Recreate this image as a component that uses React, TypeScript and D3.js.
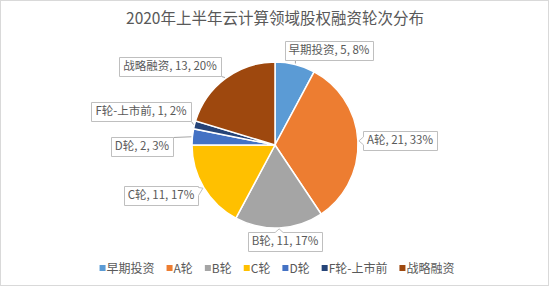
import React from 'react';
import * as d3 from 'd3';

const title = '2020年上半年云计算领域股权融资轮次分布';
const categories = ['早期投资', 'A轮', 'B轮', 'C轮', 'D轮', 'F轮-上市前', '战略融资'];
const values = [5, 21, 11, 11, 2, 1, 13];
const colors = ['#5b9bd5', '#ed7d31', '#a5a5a5', '#ffc000', '#4472c4', '#264478', '#9e480e'];

// label box centres relative to the pie centre, and whether the box is a wedge callout
const labelLayout = [
  { dx: 54, dy: -95, callout: false },
  { dx: 125, dy: -5, callout: true },
  { dx: 10, dy: 96, callout: true },
  { dx: -114, dy: 50, callout: true },
  { dx: -133, dy: 1, callout: false },
  { dx: -134, dy: -34, callout: false },
  { dx: -105, dy: -79, callout: false },
];

const W = 550, H = 288;
const FONT = "'Noto Sans CJK SC', 'Microsoft YaHei', sans-serif";
const cx = 275, cy = 145, R = 83;

let ctx: CanvasRenderingContext2D | null = null;
const textWidth = (s: string, size: number) => {
  if (!ctx) ctx = document.createElement('canvas').getContext('2d');
  ctx!.font = `${size}px ${FONT}`;
  return ctx!.measureText(s).width;
};

const calloutPath = (x0, y0, x1, y1, ax, ay, wedge) => {
  if (!wedge) return `M${x0},${y0}H${x1}V${y1}H${x0}Z`;
  const bx = Math.max(x0 + 6, Math.min(x1 - 6, ax));
  const by = Math.max(y0 + 5, Math.min(y1 - 5, ay));
  const w = 4;
  if (ay < y0) return `M${x0},${y0}H${bx - w}L${ax},${ay}L${bx + w},${y0}H${x1}V${y1}H${x0}Z`;
  if (ay > y1) return `M${x0},${y0}H${x1}V${y1}H${bx + w}L${ax},${ay}L${bx - w},${y1}H${x0}Z`;
  if (ax > x1) return `M${x0},${y0}H${x1}V${by - w}L${ax},${ay}L${x1},${by + w}V${y1}H${x0}Z`;
  return `M${x0},${y0}H${x1}V${y1}H${x0}V${by + w}L${ax},${ay}L${x0},${by - w}Z`;
};

export default function App() {
  const total = d3.sum(values);
  const data = categories.map((name, i) => ({ name, value: values[i], color: colors[i] }));
  const pie = d3.pie<any>().sort(null).value((d) => d.value);
  const arcs = pie(data);
  const arc = d3.arc<any>().innerRadius(0).outerRadius(R);
  const edgeArc = d3.arc<any>().innerRadius(R + 1).outerRadius(R + 1);

  // legend layout
  const legendSize = 12;
  const items = categories.map((c) => ({ c, w: 7 + textWidth(c, legendSize) }));
  const gap = 12;
  const legendW = d3.sum(items, (d) => d.w) + gap * (items.length - 1);
  let lx = W / 2 - legendW / 2 + 2;
  const legendItems = items.map((it, i) => {
    const x = lx;
    lx += it.w + gap;
    return { ...it, x, color: colors[i] };
  });

  const labelSize = 11.5;

  return (
    <svg width={W} height={H} style={{ position: 'absolute', left: 0, top: 0 }} fontFamily={FONT}>
      <rect x={0} y={0} width={W} height={H} fill="#fff" />
      <rect x={0.5} y={0.5} width={W - 2} height={H - 3} fill="none" stroke="#d9d9d9" />
      <text x={W / 2} y={24} textAnchor="middle" fontSize={15.5} fill="#595959">{title}</text>

      <g transform={`translate(${cx},${cy})`}>
        {arcs.map((a, i) => (
          <path key={i} d={arc(a) as string} fill={a.data.color} stroke="#fff" strokeWidth={1.5} />
        ))}
      </g>

      {arcs.map((a, i) => {
        const pct = Math.round((a.data.value / total) * 100);
        const label = `${a.data.name}, ${a.data.value}, ${pct}%`;
        const tw = textWidth(label, labelSize);
        const lay = labelLayout[i];
        const bx = cx + lay.dx, by = cy + lay.dy;
        const x0 = Math.round(bx - tw / 2 - 4) + 0.5, x1 = Math.round(bx + tw / 2 + 4) + 0.5;
        const y0 = Math.round(by - 9.5) + 0.5, y1 = Math.round(by + 9.5) + 0.5;
        const [ex, ey] = edgeArc.centroid(a);
        const ax = cx + ex, ay = cy + ey;
        const px = Math.max(x0, Math.min(x1, ax)), py = Math.max(y0, Math.min(y1, ay));
        return (
          <g key={i}>
            {!lay.callout && <line x1={px} y1={py} x2={ax} y2={ay} stroke="#a6a6a6" strokeWidth={1} />}
            <path d={calloutPath(x0, y0, x1, y1, ax, ay, lay.callout)} fill="#fff" stroke="#bfbfbf" strokeWidth={1} />
            <text x={bx} y={by + 4.2} textAnchor="middle" fontSize={labelSize} fill="#595959">{label}</text>
          </g>
        );
      })}

      {legendItems.map((it, i) => (
        <g key={i} transform={`translate(${it.x},268)`}>
          <rect x={0} y={-3} width={6} height={6} fill={it.color} />
          <text x={7} y={4.5} fontSize={legendSize} fill="#595959">{it.c}</text>
        </g>
      ))}
    </svg>
  );
}
